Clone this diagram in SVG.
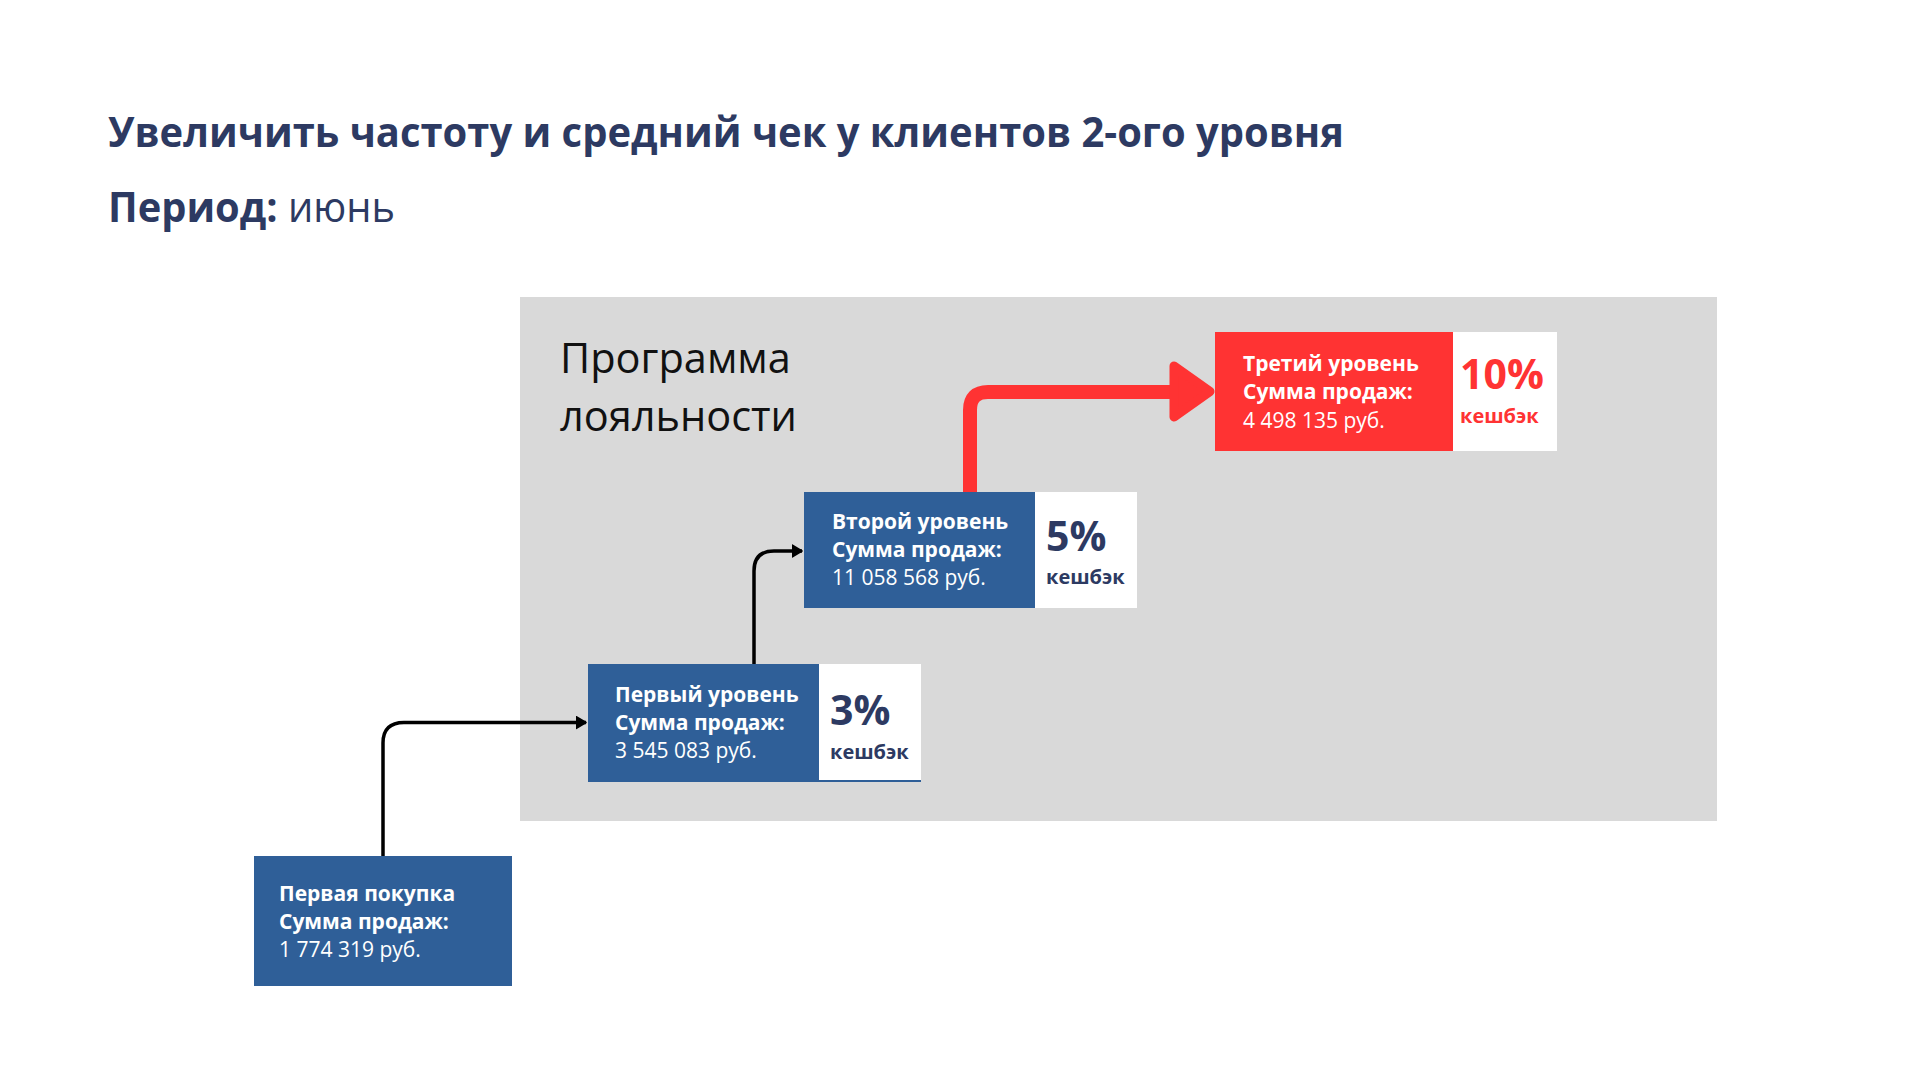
<svg xmlns="http://www.w3.org/2000/svg" width="1920" height="1080" viewBox="0 0 1920 1080">
<defs>
<style>
.title{font-family:"Open Sans","Liberation Sans",sans-serif;font-weight:700;fill:#2d3a62}
.lbl{font-family:"Open Sans","Liberation Sans",sans-serif;font-size:21px;fill:#ffffff}
.b{font-weight:700}
.pct{font-family:"Open Sans","Liberation Sans",sans-serif;font-weight:700;fill:#2d3a62}
.red{fill:#ff3333}
.blue{fill:#2f5f98}
.conn{fill:none;stroke:#000;stroke-width:3.5}
</style>
<marker id="ah" markerUnits="userSpaceOnUse" markerWidth="12" markerHeight="14" refX="10" refY="7" orient="auto">
<path d="M0,1 L10,7 L0,13 Z" fill="#000" stroke="#000" stroke-width="1.5" stroke-linejoin="round"/>
</marker>
</defs>
<rect width="1920" height="1080" fill="#ffffff"/>
<text class="title" x="108" y="147" font-size="41" textLength="1236" lengthAdjust="spacingAndGlyphs">Увеличить частоту и средний чек у клиентов 2-ого уровня</text>
<text class="title" x="108" y="222" font-size="42" textLength="287" lengthAdjust="spacingAndGlyphs">Период: <tspan font-weight="400">июнь</tspan></text>

<g id="program">
<rect x="520" y="297" width="1197" height="524" fill="#d9d9d9"/>
<text x="560" y="373" font-family="'Open Sans','Liberation Sans',sans-serif" font-size="41.5" fill="#111">Программа</text>
<text x="560" y="431" font-family="'Open Sans','Liberation Sans',sans-serif" font-size="41.5" fill="#111">лояльности</text>
</g>

<g id="connectors">
<path class="conn" d="M383,856 V743 Q383,722.5 404,722.5 H586" marker-end="url(#ah)"/>
<path class="conn" d="M754,664 V571 Q754,551 774,551 H802" marker-end="url(#ah)"/>
<path d="M970,492 V410 Q970,392 988,392 H1176" fill="none" stroke="#ff3333" stroke-width="14"/>
<path d="M1174,366 L1210,391.5 L1174,417 Z" fill="#ff3333" stroke="#ff3333" stroke-width="9" stroke-linejoin="round"/>
</g>

<g id="first-purchase">
<rect class="blue" x="254" y="856" width="258" height="130"/>
<text class="lbl b" x="279" y="901">Первая покупка</text>
<text class="lbl b" x="279" y="929">Сумма продаж:</text>
<text class="lbl" x="279" y="957">1 774 319 руб.</text>
</g>

<g id="level1">
<rect class="blue" x="588" y="664" width="231" height="118"/>
<rect x="819" y="664" width="102" height="116" fill="#fff"/>
<rect class="blue" x="819" y="780" width="102" height="2"/>
<text class="lbl b" x="615" y="702">Первый уровень</text>
<text class="lbl b" x="615" y="730">Сумма продаж:</text>
<text class="lbl" x="615" y="758">3 545 083 руб.</text>
<text class="pct" x="830" y="725" font-size="41">3%</text>
<text class="pct" x="830" y="759" font-size="20">кешбэк</text>
</g>

<g id="level2">
<rect class="blue" x="804" y="492" width="231" height="116"/>
<rect x="1035" y="492" width="102" height="116" fill="#fff"/>
<text class="lbl b" x="832" y="529">Второй уровень</text>
<text class="lbl b" x="832" y="557">Сумма продаж:</text>
<text class="lbl" x="832" y="585">11 058 568 руб.</text>
<text class="pct" x="1046" y="551" font-size="41">5%</text>
<text class="pct" x="1046" y="584" font-size="20">кешбэк</text>
</g>

<g id="level3">
<rect class="red" x="1215" y="332" width="238" height="119"/>
<rect x="1453" y="332" width="104" height="119" fill="#fff"/>
<text class="lbl b" x="1243" y="371">Третий уровень</text>
<text class="lbl b" x="1243" y="399">Сумма продаж:</text>
<text class="lbl" x="1243" y="428">4 498 135 руб.</text>
<text class="pct red" x="1460" y="389" font-size="41">10%</text>
<text class="pct red" x="1460" y="423" font-size="20">кешбэк</text>
</g>
</svg>
